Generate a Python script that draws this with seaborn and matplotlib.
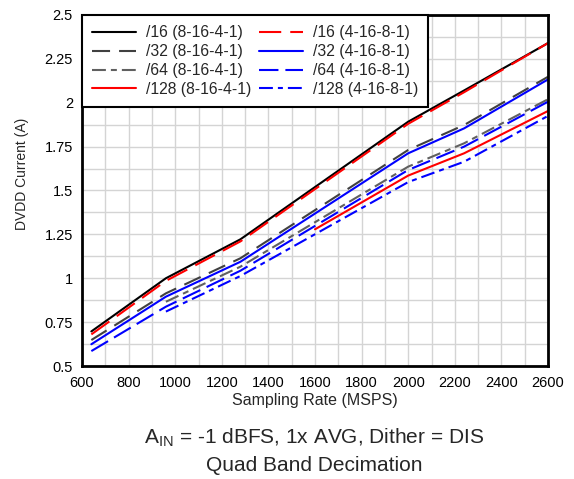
import numpy as np
import pandas as pd
import matplotlib
matplotlib.use("Agg")
import matplotlib.pyplot as plt
import seaborn as sns
from matplotlib.ticker import MultipleLocator

# ---------------- data ----------------
x_full = [640, 960, 1280, 2000, 2240, 2600]
x_from960 = [960, 1280, 2000, 2240, 2600]
x_from1600 = [1600, 2000, 2240, 2600]

d16_a = [0.697, 1.000, 1.222, 1.892, 2.070, 2.340]   # /16 (8-16-4-1)
d32_a = [0.648, 0.914, 1.114, 1.731, 1.873, 2.148]   # /32 (8-16-4-1)
d64_a = [0.866, 1.066, 1.636, 1.769, 2.020]          # /64 (8-16-4-1)
d128_a = [1.279, 1.585, 1.712, 1.953]                # /128 (8-16-4-1)
d16_b = [0.680, 0.985, 1.210, 1.880, 2.060, 2.340]   # /16 (4-16-8-1)
d32_b = [0.624, 0.895, 1.094, 1.712, 1.854, 2.133]   # /32 (4-16-8-1)
d64_b = [0.585, 0.838, 1.043, 1.617, 1.750, 2.006]   # /64 (4-16-8-1)
d128_b = [0.810, 1.013, 1.548, 1.664, 1.925]         # /128 (4-16-8-1)

labels = ["/16 (8-16-4-1)", "/32 (8-16-4-1)", "/64 (8-16-4-1)", "/128 (8-16-4-1)",
          "/16 (4-16-8-1)", "/32 (4-16-8-1)", "/64 (4-16-8-1)", "/128 (4-16-8-1)"]
xs = [x_full, x_full, x_from960, x_from1600, x_full, x_full, x_full, x_from960]
ys = [d16_a, d32_a, d64_a, d128_a, d16_b, d32_b, d64_b, d128_b]

xticks = list(range(600, 2601, 200))
yticks = [0.5, 0.75, 1, 1.25, 1.5, 1.75, 2, 2.25, 2.5]

# ---------------- styles ----------------
colors = ["#000000", "#404040", "#606060", "#ff0000",
          "#ff0000", "#0000ff", "#0000ff", "#0000ff"]
styles = ["-", (0, (13, 6.5)), (0, (10, 3.6, 4.3, 3.6)), "-",
          (0, (16, 6.5)), "-", (0, (14, 5)), (0, (10, 3.6, 3.6, 3.6))]

sns.set_theme(style="white")
plt.rcParams["font.family"] = ["Liberation Sans", "DejaVu Sans"]
plt.rcParams["mathtext.fontset"] = "custom"
plt.rcParams["mathtext.rm"] = "Liberation Sans"
plt.rcParams["lines.scale_dashes"] = False

fig = plt.figure(figsize=(5.74, 4.79), dpi=100)
ax = fig.add_axes([0.1429, 0.2359, 0.8118, 0.7328])

handles = []
for lab, x, y, c, ls in zip(labels, xs, ys, colors, styles):
    df = pd.DataFrame({"x": x, "y": y})
    sns.lineplot(data=df, x="x", y="y", ax=ax, color=c, linestyle=ls,
                 linewidth=1.5, legend=False)
    handles.append(ax.lines[-1])

ax.set_xlim(600, 2600)
ax.set_ylim(0.5, 2.5)
ax.set_xticks(xticks)
ax.set_xticklabels([str(v) for v in xticks])
ax.set_yticks(yticks)
ax.set_yticklabels([f"{v:g}" for v in yticks])
ax.xaxis.set_minor_locator(MultipleLocator(100))
ax.yaxis.set_minor_locator(MultipleLocator(0.125))
ax.grid(which="both", color="#d4d4d4", linewidth=1)
ax.set_axisbelow(True)
ax.tick_params(which="both", length=0, labelsize=10.5, colors="black")
ax.tick_params(axis="y", pad=6.5)
ax.tick_params(axis="x", pad=7)
ax.set_xlabel("")
ax.set_ylabel("")
for s in ax.spines.values():
    s.set_color("black")
    s.set_linewidth(2)

leg = ax.legend(handles, labels, loc="upper left", ncol=2, frameon=True,
                fancybox=False, edgecolor="black", framealpha=1,
                borderaxespad=0, fontsize=11.3, handlelength=2.8,
                handletextpad=0.6, columnspacing=0.55, labelspacing=0.25,
                borderpad=0.65)
leg.get_frame().set_linewidth(1.5)

xc = 314.5 / 574
fig.text(22 / 574, 1 - 174 / 479, "DVDD Current (A)", rotation=90,
         ha="center", va="center", fontsize=10)
fig.text(xc, 1 - 400 / 479, "Sampling Rate (MSPS)",
         ha="center", va="center", fontsize=11.5)
fig.text(xc, 1 - 438 / 479,
         r"A$_{\mathregular{IN}}$ = -1 dBFS, 1x AVG, Dither = DIS",
         ha="center", va="center", fontsize=15)
fig.text(xc, 1 - 465.5 / 479, "Quad Band Decimation",
         ha="center", va="center", fontsize=15)

fig.savefig("out.png", dpi=100)
